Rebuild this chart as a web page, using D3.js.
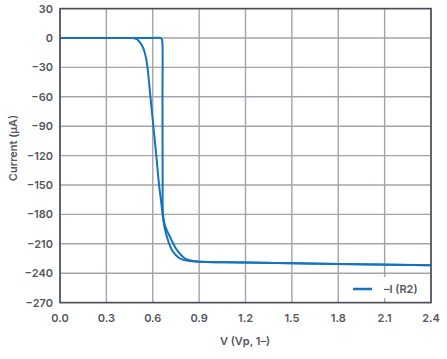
<!DOCTYPE html>
<html><head><meta charset="utf-8">
<script src="https://cdn.jsdelivr.net/npm/d3@7"></script>
<style>
html,body{margin:0;padding:0;background:#fff;}
text{font-family:Inter,"Noto Sans",sans-serif;font-weight:600;fill:#55565e;}
</style></head><body>
<svg id="c" width="447" height="359"></svg>
<script>
const xTicks = [0.0,0.3,0.6,0.9,1.2,1.5,1.8,2.1,2.4];
const yTicks = [30,0,-30,-60,-90,-120,-150,-180,-210,-240,-270];
const xLabel = "V (Vp, 1–)";
const yLabel = "Current (µA)";
const legendLabel = "–I (R2)";
// gradual sweep
const vA = [0,0.3,0.45,0.48,0.50,0.52,0.539,0.556,0.566,0.585,0.604,0.623,0.641,0.655,0.666,0.680,0.700,0.723,0.776,0.841,1.2,1.8,2.4];
const iA = [0,0,0,-0.3,-1.5,-5,-10.5,-20,-30,-60,-90,-120,-150,-168,-183,-196,-207,-216,-225,-227.5,-229,-230.5,-232];
// abrupt sweep
const vB = [0,0.3,0.6,0.650,0.658,0.662,0.663,0.664,0.667,0.680,0.712,0.755,0.809,0.860,1.2,1.8,2.4];
const iB = [0,0,0,0,-1,-4,-60,-140,-181,-192,-203,-216,-225,-227.5,-229,-230.5,-232];

const svg = d3.select("#c");
const L=60,R=431,T=8.6,B=302.6;
const x = d3.scaleLinear().domain([0,2.4]).range([L,R]);
const y = d3.scaleLinear().domain([-270,30]).range([B,T]);

const g = svg.append("g");
g.selectAll(".vg").data(xTicks).enter().append("line")
 .attr("x1",d=>x(d)).attr("x2",d=>x(d)).attr("y1",T).attr("y2",B)
 .attr("stroke","#a3a3ad").attr("stroke-width",1.4);
g.selectAll(".hg").data(yTicks).enter().append("line")
 .attr("y1",d=>y(d)).attr("y2",d=>y(d)).attr("x1",L).attr("x2",R)
 .attr("stroke","#a3a3ad").attr("stroke-width",1.4);

const line = d3.line().x(d=>x(d[0])).y(d=>y(d[1])).curve(d3.curveCatmullRom.alpha(0.5));
const col = "#1473bd";
svg.append("path").attr("d",line(vA.map((v,k)=>[v,iA[k]])))
 .attr("fill","none").attr("stroke",col).attr("stroke-width",2);
svg.append("path").attr("d",line(vB.map((v,k)=>[v,iB[k]])))
 .attr("fill","none").attr("stroke",col).attr("stroke-width",2);

// legend
svg.append("rect").attr("x",346).attr("y",277).attr("width",84).attr("height",21).attr("fill","#fff");
svg.append("line").attr("x1",353).attr("x2",372).attr("y1",289).attr("y2",289).attr("stroke",col).attr("stroke-width",2.5);
svg.append("text").attr("x",384).attr("y",293).attr("font-size",11).text(legendLabel);

// frame
svg.append("rect").attr("x",L).attr("y",T).attr("width",R-L).attr("height",B-T)
 .attr("fill","none").attr("stroke","#4d4e58").attr("stroke-width",1.6);

// tick labels
svg.selectAll(".xt").data(xTicks).enter().append("text")
 .attr("x",d=>x(d)).attr("y",322).attr("text-anchor","middle").attr("font-size",11)
 .text(d=>d3.format(".1f")(d));
svg.selectAll(".yt").data(yTicks).enter().append("text")
 .attr("x",53).attr("y",d=>y(d)+4).attr("text-anchor","end").attr("font-size",11)
 .text(d=>d<0?"−"+Math.abs(d):String(d));
svg.append("text").attr("x",245).attr("y",345).attr("text-anchor","middle").attr("font-size",11).text(xLabel);
svg.append("text").attr("transform","translate(17,148) rotate(-90)").attr("text-anchor","middle").attr("font-size",11).text(yLabel);
</script></body></html>
